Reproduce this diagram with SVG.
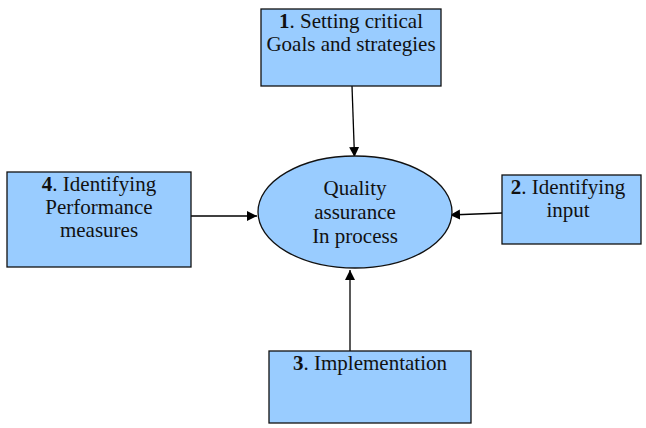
<svg xmlns="http://www.w3.org/2000/svg" width="646" height="428" viewBox="0 0 646 428">
<style>
.box{fill:#99ccff;stroke:#111;stroke-width:1.3}
.t{font-family:'Liberation Serif','Times New Roman',Times,serif;font-size:21px;fill:#111;text-anchor:middle}
.c{stroke:#000;stroke-width:1.3;fill:none;marker-end:url(#ah)}
</style>
<defs>
<marker id="ah" viewBox="0 0 10 10" refX="10" refY="5" markerWidth="10" markerHeight="11" markerUnits="userSpaceOnUse" orient="auto">
<path d="M0,0 L10,5 L0,10 z" fill="#000"/>
</marker>
</defs>
<rect width="646" height="428" fill="#fff"/>
<g id="connectors">
<line class="c" x1="352" y1="86" x2="354.5" y2="157"/>
<line class="c" x1="191" y1="216" x2="257" y2="216"/>
<line class="c" x1="502" y1="213" x2="450" y2="215"/>
<line class="c" x1="350" y1="351" x2="350" y2="270"/>
</g>
<g id="center">
<ellipse class="box" cx="355" cy="212" rx="97" ry="56"/>
<text class="t" x="355" y="195">Quality</text>
<text class="t" x="355" y="219">assurance</text>
<text class="t" x="355" y="243">In process</text>
</g>
<g id="n1">
<rect class="box" x="261" y="9" width="180" height="77"/>
<text class="t" x="351" y="28"><tspan font-weight="bold">1</tspan>. Setting critical</text>
<text class="t" x="351" y="51">Goals and strategies</text>
</g>
<g id="n2">
<rect class="box" x="502" y="175" width="139" height="69"/>
<text class="t" x="568" y="194"><tspan font-weight="bold">2</tspan>. Identifying</text>
<text class="t" x="568" y="217">input</text>
</g>
<g id="n3">
<rect class="box" x="269" y="351" width="202" height="72"/>
<text class="t" x="370" y="370"><tspan font-weight="bold">3</tspan>. Implementation</text>
</g>
<g id="n4">
<rect class="box" x="7" y="172" width="184" height="95"/>
<text class="t" x="99" y="191"><tspan font-weight="bold">4</tspan>. Identifying</text>
<text class="t" x="99" y="214">Performance</text>
<text class="t" x="99" y="237">measures</text>
</g>
</svg>
